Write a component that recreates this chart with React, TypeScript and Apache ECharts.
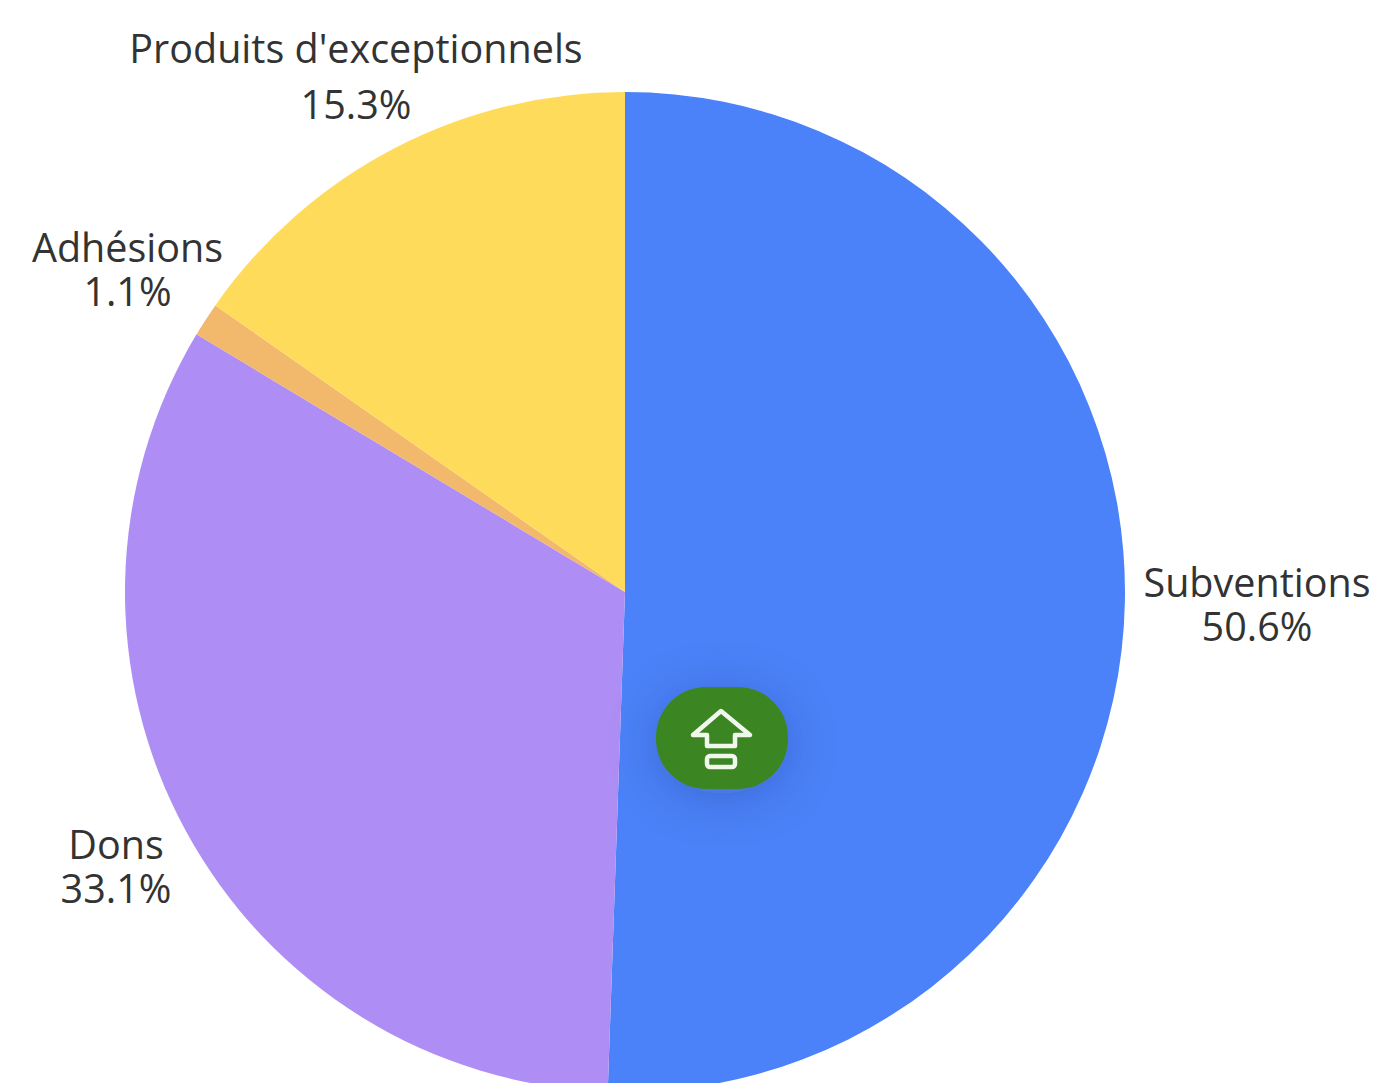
import React, { useEffect, useRef } from "react";
import * as echarts from "echarts";

const categories = ["Subventions", "Dons", "Adhésions", "Produits d'exceptionnels"];
const shares = [50.6, 33.1, 1.1, 15.3];
const colors = ["#4B82F9", "#AE8EF5", "#F2B86C", "#FFDB5C"];
const labelCentres = [
  [1257, 604],
  [116, 866],
  [127.5, 269],
  [356, 76],
];
const labelLineHeights = [44, 44, 44, 56];

export default function App() {
  const ref = useRef<HTMLDivElement>(null);
  useEffect(() => {
    document.body.style.margin = "0";
    document.body.style.overflow = "hidden";
    const chart = echarts.init(ref.current!, null, { renderer: "svg" });
    chart.setOption({
      animation: false,
      backgroundColor: "#ffffff",
      series: [
        {
          type: "pie",
          center: [625, 592],
          radius: [0, 500],
          startAngle: 90,
          clockwise: true,
          silent: true,
          data: categories.map((name, i) => ({
            name,
            value: shares[i],
            itemStyle: { color: colors[i] },
            label: { lineHeight: labelLineHeights[i] },
          })),
          label: {
            show: true,
            position: "outside",
            formatter: "{b}\n{c}%",
            fontFamily: "Open Sans",
            fontSize: 39.5,
            color: "#333333",
            align: "center",
            overflow: "none",
          },
          labelLine: { show: false },
          labelLayout: (p: any) => ({
            x: labelCentres[p.dataIndex][0],
            y: labelCentres[p.dataIndex][1],
            align: "center",
            verticalAlign: "middle",
          }),
        },
      ],
      graphic: [
        {
          type: "rect",
          shape: { x: 656, y: 687, width: 132, height: 102, r: 50 },
          style: {
            fill: "#3B8523",
            shadowBlur: 50,
            shadowColor: "rgba(40,40,60,0.22)",
            shadowOffsetY: 6,
          },
          z: 10,
        },
        {
          type: "polygon",
          shape: {
            points: [
              [721, 711],
              [750, 735],
              [735, 735],
              [735, 746],
              [707, 746],
              [707, 735],
              [693, 735],
            ],
          },
          style: { fill: "none", stroke: "#F2F7EE", lineWidth: 4.5, lineJoin: "round" },
          z: 11,
        },
        {
          type: "rect",
          shape: { x: 707, y: 756, width: 28, height: 11, r: 3 },
          style: { fill: "none", stroke: "#F2F7EE", lineWidth: 4.5 },
          z: 11,
        },
      ],
    });
    return () => chart.dispose();
  }, []);
  return <div ref={ref} style={{ width: 1378, height: 1083 }} />;
}
